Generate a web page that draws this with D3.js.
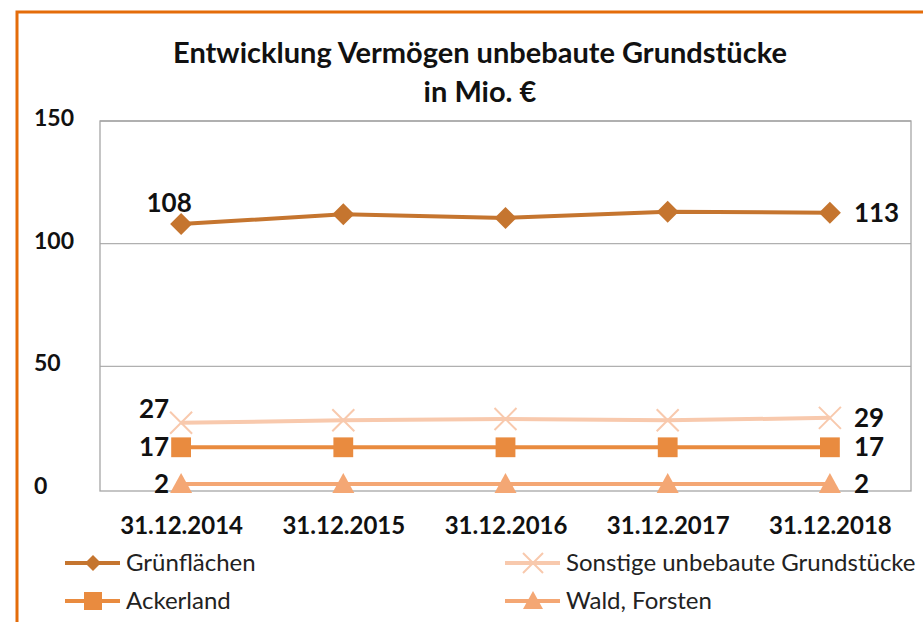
<!DOCTYPE html>
<html>
<head>
<meta charset="utf-8">
<script src="https://cdn.jsdelivr.net/npm/d3@7"></script>
<style>
  body { margin: 0; background: #fff; }
  svg { display: block; font-family: Lato, "Open Sans", sans-serif; }
</style>
</head>
<body>
<div id="chart"></div>
<script>
// data
const dates = ["31.12.2014", "31.12.2015", "31.12.2016", "31.12.2017", "31.12.2018"];
const gruenflaechen = [108, 112, 110.5, 113, 112.6];
const sonstige = [27, 28, 28.5, 28, 29];
const ackerland = [17, 17, 17, 17, 17];
const wald = [2, 2, 2, 2, 2];
const yTicks = [0, 50, 100, 150];

const series = [
  { name: "Grünflächen", values: gruenflaechen, color: "#C5752F", marker: "diamond", labels: ["108", "113"] },
  { name: "Sonstige unbebaute Grundstücke", values: sonstige, color: "#F8C9AD", marker: "x", labels: ["27", "29"] },
  { name: "Ackerland", values: ackerland, color: "#E98B3F", marker: "square", labels: ["17", "17"] },
  { name: "Wald, Forsten", values: wald, color: "#F4A774", marker: "triangle", labels: ["2", "2"] }
];

const width = 923, height = 622;
const plot = { left: 100, right: 911, top: 121, bottom: 489 };

const svg = d3.select("#chart").append("svg")
  .attr("width", width).attr("height", height);

// frame of the chart object
svg.append("rect")
  .attr("x", 17).attr("y", 12)
  .attr("width", 940).attr("height", 640)
  .attr("fill", "none").attr("stroke", "#E46C0A").attr("stroke-width", 3);

const x = d3.scalePoint().domain(dates).range([plot.left, plot.right]).padding(0.5);
const y = d3.scaleLinear().domain([0, 150]).range([plot.bottom, plot.top]);

// title
const title = svg.append("text").attr("text-anchor", "middle")
  .attr("font-weight", "bold").attr("font-size", 29).attr("fill", "#111");
title.append("tspan").attr("x", 480).attr("y", 63).text("Entwicklung Vermögen unbebaute Grundstücke");
title.append("tspan").attr("x", 480).attr("y", 102).text("in Mio. €");

// gridlines
svg.append("g").selectAll("line")
  .data(yTicks.filter(d => d > 0))
  .join("line")
  .attr("x1", plot.left).attr("x2", plot.right)
  .attr("y1", d => y(d)).attr("y2", d => y(d))
  .attr("stroke", "#b0b0b0").attr("stroke-width", 1.3);

// plot area border
svg.append("rect")
  .attr("x", plot.left).attr("y", plot.top)
  .attr("width", plot.right - plot.left).attr("height", plot.bottom + 2 - plot.top)
  .attr("fill", "none").attr("stroke", "#a6a6a6").attr("stroke-width", 1.3);

// y axis
const yAxis = svg.append("g")
  .attr("transform", `translate(${plot.left},0)`)
  .call(d3.axisLeft(y).tickValues(yTicks).tickSize(0).tickPadding(24));
yAxis.select(".domain").remove();
yAxis.selectAll("text")
  .attr("font-size", 23).attr("font-weight", "bold").attr("fill", "#111")
  .attr("font-family", "Lato, sans-serif")
  .attr("text-anchor", "start").attr("x", -66).attr("dy", "0.2em");

// x axis
const xAxis = svg.append("g")
  .attr("transform", `translate(0,${plot.bottom})`)
  .call(d3.axisBottom(x).tickSize(0).tickPadding(28));
xAxis.select(".domain").remove();
xAxis.selectAll("text")
  .attr("font-size", 24).attr("font-weight", "bold").attr("fill", "#111")
  .attr("font-family", "Lato, sans-serif");

const line = d3.line().x((d, i) => x(dates[i])).y(d => y(d));

function drawMarker(g, type, color, size) {
  const s = size / 2;
  if (type === "diamond") {
    g.append("path").attr("d", `M0,${-s}L${s},0L0,${s}L${-s},0Z`).attr("fill", color);
  } else if (type === "square") {
    g.append("rect").attr("x", -s * 0.9).attr("y", -s * 0.9)
      .attr("width", s * 1.8).attr("height", s * 1.8).attr("fill", color);
  } else if (type === "triangle") {
    g.append("path").attr("d", `M0,${-s}L${s},${s * 0.8}L${-s},${s * 0.8}Z`).attr("fill", color);
  } else {
    g.append("path").attr("d", `M${-s},${-s}L${s},${s}M${s},${-s}L${-s},${s}`)
      .attr("stroke", color).attr("stroke-width", 2);
  }
}

series.forEach(s => {
  const g = svg.append("g");
  g.append("path").datum(s.values).attr("d", line)
    .attr("fill", "none").attr("stroke", s.color).attr("stroke-width", 4);
  s.values.forEach((v, i) => {
    const m = g.append("g").attr("transform", `translate(${x(dates[i])},${y(v)})`);
    drawMarker(m, s.marker, s.color, 22);
  });
  const first = s.values[0], last = s.values[s.values.length - 1];
  const lbl = { "font-size": 26, "font-weight": "bold", "fill": "#111" };
  const t1 = g.append("text").text(s.labels[0]);
  const t2 = g.append("text").text(s.labels[1])
    .attr("x", x(dates[4]) + 24).attr("y", y(last)).attr("dy", "0.35em");
  if (s.marker === "diamond") {
    t1.attr("x", x(dates[0]) - 12).attr("y", y(first) - 12).attr("text-anchor", "middle");
  } else {
    t1.attr("x", x(dates[0]) - 12).attr("y", y(first) - (s.marker === "x" ? 14 : 0))
      .attr("dy", "0.35em").attr("text-anchor", "end");
  }
  [t1, t2].forEach(t => Object.entries(lbl).forEach(([k, v]) => t.attr(k, v)));
});

// legend
const legendPos = [[65, 563], [505, 563], [65, 601], [505, 601]];
series.forEach((s, k) => {
  const [lx, ly] = legendPos[k];
  const g = svg.append("g").attr("transform", `translate(${lx},${ly})`);
  g.append("line").attr("x1", 0).attr("x2", 55).attr("y1", 0).attr("y2", 0)
    .attr("stroke", s.color).attr("stroke-width", 4);
  const m = g.append("g").attr("transform", "translate(28,0)");
  drawMarker(m, s.marker, s.color, s.marker === "diamond" ? 16 : 20);
  g.append("text").attr("x", 61).attr("dy", "0.35em")
    .attr("font-size", 24).attr("fill", "#222").text(s.name);
});
</script>
</body>
</html>
